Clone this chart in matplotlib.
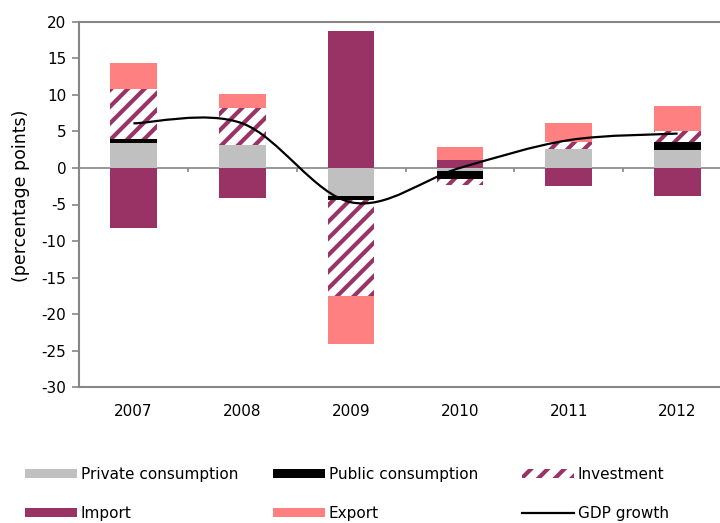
import numpy as np
import matplotlib
matplotlib.use('Agg')
import matplotlib.pyplot as plt
from matplotlib.path import Path
from matplotlib.patches import PathPatch, Patch
from matplotlib.lines import Line2D

years = ['2007', '2008', '2009', '2010', '2011', '2012']
private_consumption = [3.4, 3.2, -3.8, -0.4, 2.6, 2.4]
public_consumption = [0.6, 0.0, -0.55, -1.1, 0.0, 1.1]
investment = [6.8, 5.0, -13.1, -0.9, 1.0, 1.6]
imports = [-8.2, -4.1, 18.7, 1.1, -2.5, -3.9]
exports = [3.55, 1.9, -6.6, 1.8, 2.5, 3.4]
gdp_growth = [6.1, 6.1, -4.7, 0.0, 3.8, 4.7]

PURPLE = '#993366'
GREY_AXIS = '#868686'

plt.rcParams['font.family'] = ['DejaVu Sans']
plt.rcParams['hatch.linewidth'] = 3.0
plt.rcParams['axes.unicode_minus'] = False

series = [
    ('Private consumption', private_consumption, dict(color='#C0C0C0')),
    ('Public consumption', public_consumption, dict(color='black')),
    ('Investment', investment, dict(facecolor='white', edgecolor=PURPLE, hatch='//', linewidth=0)),
    ('Import', imports, dict(color=PURPLE)),
    ('Export', exports, dict(color='#FF8080')),
]


def smooth_path(xs, ys):
    # Catmull-Rom style cubic Bezier through the points (like a smoothed line)
    pts = np.column_stack([xs, ys]).astype(float)
    padded = np.vstack([pts[0], pts, pts[-1]])
    verts = [pts[0]]
    codes = [Path.MOVETO]
    for i in range(len(pts) - 1):
        p0, p1, p2, p3 = padded[i], padded[i + 1], padded[i + 2], padded[i + 3]
        c1 = p1 + (p2 - p0) / 6
        c2 = p2 - (p3 - p1) / 6
        verts += [c1, c2, p2]
        codes += [Path.CURVE4] * 3
    return Path(verts, codes)


fig = plt.figure(figsize=(7.2, 5.23), dpi=100)
ax = fig.add_axes([79 / 720, 135.7 / 523, 653 / 720, 365.6 / 523])

x = np.arange(len(years))
pos_base = np.zeros(len(years))
neg_base = np.zeros(len(years))
for name, vals, style in series:
    vals = np.array(vals, dtype=float)
    bottoms = np.where(vals >= 0, pos_base, neg_base)
    ax.bar(x, vals, width=0.43, bottom=bottoms, zorder=2, **style)
    pos_base += np.clip(vals, 0, None)
    neg_base += np.clip(vals, None, 0)

ax.add_patch(PathPatch(smooth_path(x, gdp_growth), facecolor='none',
                       edgecolor='black', linewidth=1.6, zorder=4))

# zero line with category separators
ax.axhline(0, color=GREY_AXIS, linewidth=1.2, zorder=1)
ax.vlines(np.arange(len(years) - 1) + 0.5, -0.6, 0, color=GREY_AXIS, linewidth=1.2, zorder=1)

ax.set_xlim(-0.5, len(years) - 0.5)
ax.set_ylim(-30, 20)
ax.set_yticks(np.arange(-30, 21, 5))
ax.set_xticks(x)
ax.set_xticklabels(years)
ax.tick_params(axis='x', length=0, pad=12, labelsize=11, colors='black')
ax.tick_params(axis='y', length=5, width=1.2, color=GREY_AXIS, pad=4, labelsize=11)
ax.set_ylabel('(percentage points)', fontsize=12.5)
ax.yaxis.set_label_coords((30 - 79) / 653, 0.523)

for side in ['left', 'top', 'bottom']:
    ax.spines[side].set_color(GREY_AXIS)
    ax.spines[side].set_linewidth(1.5)
ax.spines['right'].set_visible(False)

# legend laid out in three columns of two rows
columns = [
    (25, [Patch(facecolor='#C0C0C0', label='Private consumption'),
          Patch(facecolor=PURPLE, label='Import')]),
    (273, [Patch(facecolor='black', label='Public consumption'),
           Patch(facecolor='#FF8080', label='Export')]),
    (522, [Patch(facecolor='white', edgecolor=PURPLE, hatch='//', linewidth=0, label='Investment'),
           Line2D([], [], color='black', linewidth=1.6, label='GDP growth')]),
]
for xpos, handles in columns:
    fig.legend(handles=handles, loc='upper left', bbox_to_anchor=(xpos / 720, 1 - 467 / 523),
               frameon=False, fontsize=11, handlelength=3.4, handleheight=0.55,
               handletextpad=0.25, labelspacing=1.55, borderpad=0, borderaxespad=0)

fig.savefig('out.png', dpi=100)
